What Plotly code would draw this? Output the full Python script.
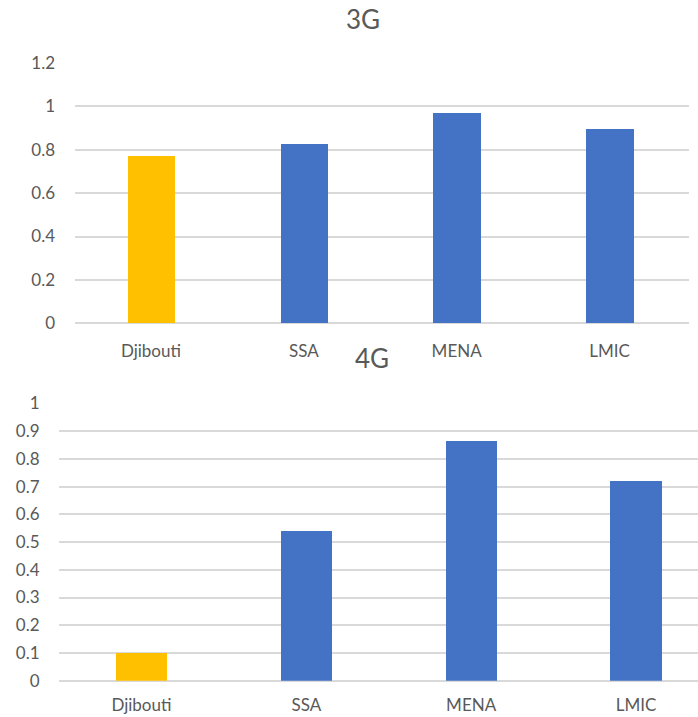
import plotly.graph_objects as go

categories = ["Djibouti", "SSA", "MENA", "LMIC"]
values_3g = [0.771, 0.825, 0.970, 0.894]
values_4g = [0.103, 0.542, 0.867, 0.721]
bar_colors = ["#FFC000", "#4472C4", "#4472C4", "#4472C4"]
ticks_3g = [0, 0.2, 0.4, 0.6, 0.8, 1, 1.2]
ticks_4g = [0, 0.1, 0.2, 0.3, 0.4, 0.5, 0.6, 0.7, 0.8, 0.9, 1]

W, H = 698, 717
FONT = "Lato"
TXT = "#595959"
GRID = "#D9D9D9"

fig = go.Figure()
fig.add_trace(go.Bar(x=list(range(len(categories))), y=values_3g, marker_color=bar_colors,
                     marker_line_width=0, width=0.31, xaxis="x", yaxis="y", showlegend=False))
fig.add_trace(go.Bar(x=list(range(len(categories))), y=values_4g, marker_color=bar_colors,
                     marker_line_width=0, width=0.31, xaxis="x2", yaxis="y2", showlegend=False))

def px_x(p):
    return p / W

def px_y(p):
    return 1 - p / H

xcommon = dict(tickmode="array", tickvals=list(range(len(categories))), ticktext=categories,
               showgrid=False, zeroline=False, showline=False, ticks="outside",
               tickcolor="rgba(0,0,0,0)", tickfont=dict(family=FONT, size=17, color=TXT),
               automargin=False)
ycommon = dict(showgrid=True, gridcolor=GRID, gridwidth=1.5, zeroline=True, zerolinecolor=GRID,
               zerolinewidth=1.5, showline=False, ticks="outside", ticklen=15,
               tickcolor="rgba(0,0,0,0)", tickfont=dict(family=FONT, size=17, color=TXT),
               automargin=False)

fig.update_layout(
    template="none",
    width=W, height=H, margin=dict(l=0, r=0, t=0, b=0, pad=0, autoexpand=False),
    paper_bgcolor="white", plot_bgcolor="white",
    bargap=0,
    xaxis=dict(domain=[px_x(74.5), px_x(689)], range=[-0.5, 3.52], anchor="y", ticklen=12, **xcommon),
    yaxis=dict(domain=[px_y(323.3), px_y(63)], range=[0, 1.2], anchor="x",
               tickmode="array", tickvals=ticks_3g, ticktext=[str(t) for t in ticks_3g], **ycommon),
    xaxis2=dict(domain=[px_x(59), 1.0], range=[-0.5, 3.376], anchor="y2", ticklen=9, **xcommon),
    yaxis2=dict(domain=[px_y(680.7), px_y(403.5)], range=[0, 1.0], anchor="x2",
                tickmode="array", tickvals=ticks_4g, ticktext=[str(t) for t in ticks_4g], **ycommon),
    annotations=[
        dict(text="3G", x=px_x(362.5), y=px_y(19), xref="paper", yref="paper",
             xanchor="center", yanchor="middle", showarrow=False,
             font=dict(family=FONT, size=26, color=TXT)),
        dict(text="4G", x=px_x(372), y=px_y(358), xref="paper", yref="paper",
             xanchor="center", yanchor="middle", showarrow=False,
             font=dict(family=FONT, size=26, color=TXT)),
    ],
)

fig.write_html("out.html")
